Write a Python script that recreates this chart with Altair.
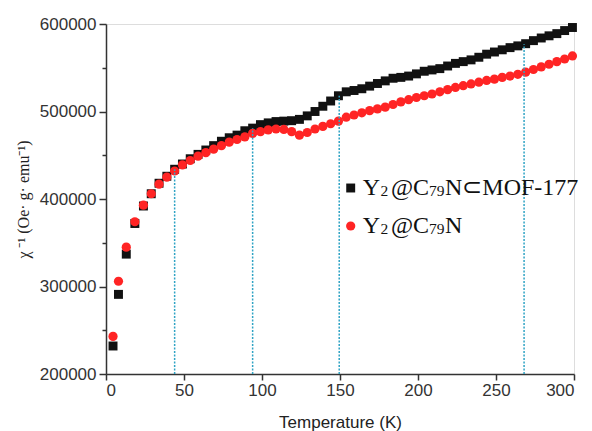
import altair as alt
import pandas as pd

# Temperature (K)
temps = [4.5, 8, 13, 18.5, 24, 29, 34, 39, 44, 49, 54, 59, 64, 69, 74, 79, 84, 89, 94, 99,
         104, 109, 114, 119, 124, 129, 134, 139, 144, 149, 154, 159, 164, 169, 174, 179, 184, 189, 194, 199,
         204, 209, 214, 219, 224, 229, 234, 239, 244, 249, 254, 259, 264, 269, 274, 279, 284, 289, 294, 299]

# chi^-1 for Y2@C79N⊂MOF-177 (black squares)
chi_mof = [232000, 291000, 337000, 372000, 392000, 406000, 418000, 426000, 434000, 440000,
           446000, 451000, 456000, 461000, 466000, 470000, 473000, 478000, 481000, 485000,
           487000, 488500, 489000, 489500, 491000, 495000, 500000, 506000, 512000, 518000,
           522500, 524000, 526000, 529000, 532000, 535000, 538000, 539000, 540500, 543000,
           546000, 547500, 549000, 552000, 555000, 557000, 559000, 562000, 565500, 568000,
           570500, 573000, 575000, 577500, 581000, 584000, 586500, 589000, 592500, 596000]

# chi^-1 for Y2@C79N (red circles)
chi_free = [243000, 306000, 345000, 374000, 393000, 406000, 417000, 425000, 432000, 439000,
            444000, 449000, 453000, 457000, 461000, 465000, 468000, 471000, 475000, 477000,
            479000, 480000, 479500, 477000, 473000, 476000, 480000, 483000, 486000, 489000,
            493500, 496000, 498500, 501000, 503000, 505000, 508000, 511000, 513500, 516000,
            518000, 520000, 522500, 525000, 527500, 529500, 531500, 533500, 535500, 537000,
            539000, 540500, 542500, 545000, 548000, 551000, 554000, 557000, 560000, 563500]

# dotted guide lines
guide_T = [44, 94, 149.5, 268]
guide_top = [434000, 481000, 518000, 577000]
guide_bottom = [200000, 200000, 200000, 200000]

legend_mof = ["Y", "2", "@C", "79", "N⊂MOF-177"]
legend_free = ["Y", "2", "@C", "79", "N"]

x_title = "Temperature (K)"
y_title = "χ ⁻¹ (Oe·  g·  emu⁻¹)"

mof_df = pd.DataFrame({"T": temps, "chi": chi_mof})
free_df = pd.DataFrame({"T": temps, "chi": chi_free})
guide_df = pd.DataFrame({"T": guide_T, "top": guide_top, "bottom": guide_bottom})

x_scale = alt.Scale(domain=[0, 300], nice=False)
y_scale = alt.Scale(domain=[200000, 600000], nice=False, zero=False)

axis_style = dict(
    grid=False, domainColor="#333333", domainWidth=1.5, tickColor="#333333", tickWidth=1.5,
    labelColor="#333333", labelFont="Liberation Sans", labelFontSize=17,
    titleColor="#222222", titleFontWeight="normal",
)

x_axis = alt.Axis(
    values=list(range(0, 301, 25)),
    labelExpr="datum.value % 50 === 0 ? datum.label : ''",
    tickSize={"condition": {"test": "datum.value % 50 === 0", "value": 6}, "value": 3},
    labelPadding=2, title=x_title, titleFont="Liberation Sans", titleFontSize=17,
    titleBaseline="alphabetic", titleY=53, **axis_style,
)
y_axis = alt.Axis(
    values=list(range(200000, 600001, 50000)), format="d",
    labelExpr="datum.value % 100000 === 0 ? datum.label : ''",
    tickSize={"condition": {"test": "datum.value % 100000 === 0", "value": 7}, "value": 4},
    labelPadding=3, title=y_title, titleFont="Liberation Serif", titleFontSize=16,
    titlePadding=8, **axis_style,
)

X = alt.X("T:Q", scale=x_scale, axis=x_axis)
Y = alt.Y("chi:Q", scale=y_scale, axis=y_axis)

squares = alt.Chart(mof_df).mark_square(size=80, color="#111111", opacity=1).encode(x=X, y=Y)
circles = alt.Chart(free_df).mark_circle(size=85, color="#ff2424", opacity=1).encode(x=X, y=Y)
guides = alt.Chart(guide_df).mark_rule(color="#2fa3c4", strokeDash=[2, 1.5], strokeWidth=1.5).encode(
    x=alt.X("T:Q", scale=x_scale),
    y=alt.Y("bottom:Q", scale=y_scale),
    y2="top:Q",
)

one = pd.DataFrame({"a": [0]})
leg_layers = [
    alt.Chart(one).mark_square(size=80, color="#111111", opacity=1).encode(x=alt.value(244.7), y=alt.value(164)),
    alt.Chart(one).mark_circle(size=85, color="#ff2424", opacity=1).encode(x=alt.value(244.7), y=alt.value(202)),
]
xs = [256.7, 274.5, 285, 323, 339]
sizes = [24, 15.5, 24, 15.5, 24]
dys = [0, 1, 0, 1, 0]
for row, (labels, base) in enumerate([(legend_mof, 171), (legend_free, 209)]):
    for lab, px, fs, dy in zip(labels, xs, sizes, dys):
        leg_layers.append(
            alt.Chart(one).mark_text(align="left", baseline="alphabetic", font="Liberation Serif",
                                     fontSize=fs, color="#111111").encode(
                x=alt.value(px), y=alt.value(base + dy), text=alt.value(lab))
        )

chart = alt.layer(squares, circles, guides, *leg_layers).properties(
    width=468, height=350,
    autosize=alt.AutoSizeParams(type="none"),
    padding={"left": 98, "top": 16, "right": 10, "bottom": 58},
).configure_view(stroke=None).configure(background="white")

chart.save("out.html", embed_options={"renderer": "svg", "actions": False})
